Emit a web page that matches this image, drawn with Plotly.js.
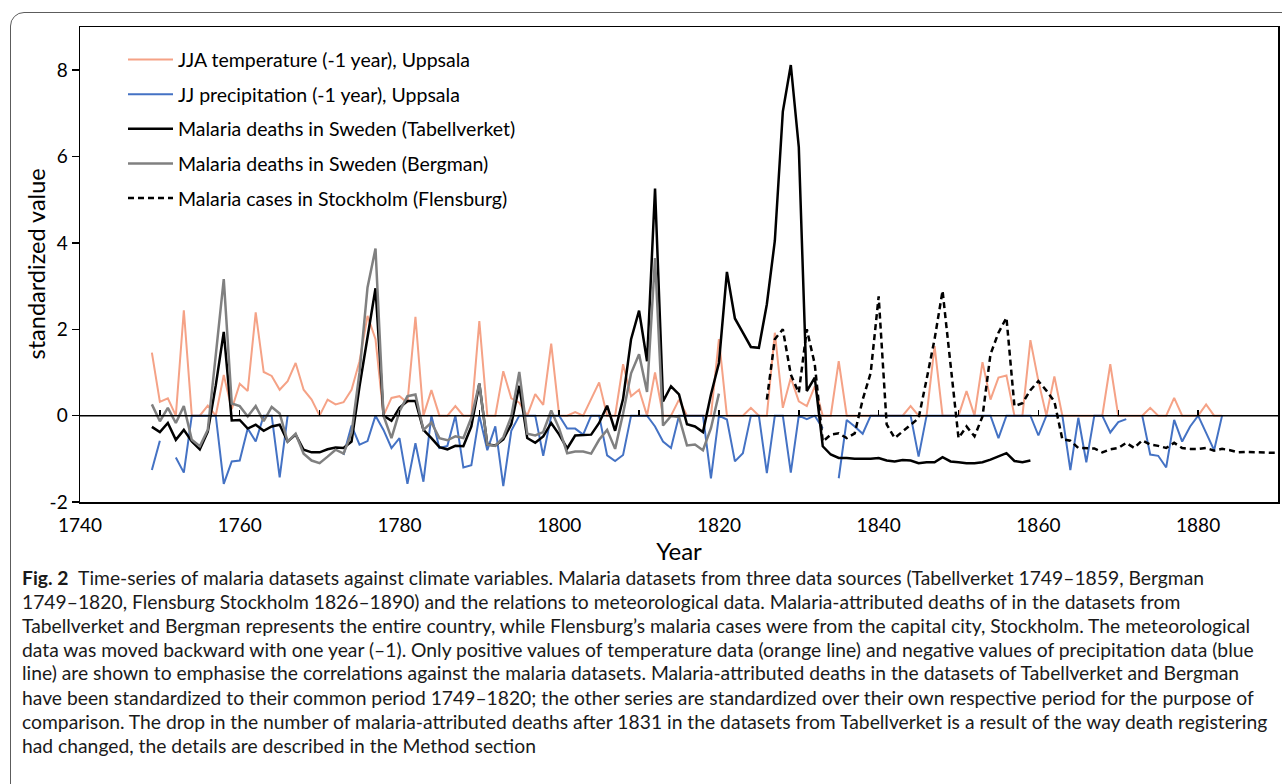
<!DOCTYPE html>
<html><head><meta charset="utf-8">
<script src="https://cdn.plot.ly/plotly-3.0.1.min.js"></script>
<style>
html,body{margin:0;padding:0;background:#fff;overflow:hidden;width:1282px;height:784px;}
#frame{position:absolute;left:10px;top:12px;width:1330px;height:830px;border:1.5px solid #5c5c5c;border-radius:14px;box-sizing:border-box;}
#chart{position:absolute;left:0;top:0;width:1282px;height:784px;}
</style></head><body>
<div id="frame"></div>
<div id="chart"></div>
<script>
// ---- data (standardized values) ----
const climateStart = 1749;
const jjaTemperature = [
 1.46,0.32,0.40,0,2.44,0,0,0.23,0,0.94,
 0.15,0.74,0.57,2.39,1.01,0.92,0.60,0.80,1.22,0.60,
 0.37,0,0.37,0.26,0.31,0.60,1.26,2.31,1.77,0,
 0.41,0.45,0.30,2.29,0,0.59,0,0,0.22,0,
 0,2.19,0,0,1.03,0.40,0.30,0,0.50,0.25,
 1.67,0,0,0.08,0,0.40,0.77,0,0,1.19,
 0.45,0.60,0,1.00,0,0,0.37,0,0,0,
 0,1.77,0,0,0,0.18,0,0,1.92,0.18,
 0.88,0.33,0.22,0.68,0,0,1.26,0,0,0,
 0,0,0,0,0,0.22,0,0,1.61,0,
 0,0,0.57,0,1.24,0.37,0.88,0.93,0,0,
 1.75,0.80,0,0.91,0,0,0,0,0,0,
 1.19,0,0,0,0,0.18,0,0,0.41,0,
 0,0,0.26,0,0
];
const jjPrecipitation = [
 -1.26,-0.58,null,-0.97,-1.32,0,0,0,0,-1.58,
 -1.06,-1.04,-0.30,-0.60,0,0,-1.43,0,null,null,
 null,null,null,null,-0.91,-0.23,-0.67,-0.59,0,-0.33,
 -0.75,-0.52,-1.58,-0.64,-1.53,0,-0.75,-0.70,0,-1.20,
 -1.15,0,-0.80,-0.25,-1.63,-0.35,0,0,0,-0.93,
 0,0,-0.30,-0.30,-0.44,0,0,-0.92,-1.05,-0.91,
 0,0,0,-0.25,-0.60,-0.75,0,0,0,0,
 -1.45,0,-0.09,-1.06,-0.87,0,0,-1.33,0,0,
 -1.32,0,-0.08,0,-0.30,null,-1.45,-0.10,-0.25,-0.42,
 0,0,0,0,0,0,-0.95,0,0,0,
 0,0,0,0,0,0,-0.52,0,0,0,
 0,-0.46,0,0,0,-1.26,-0.05,-1.08,0,0,
 -0.39,-0.15,-0.08,null,0,-0.90,-0.93,-1.20,-0.10,-0.60,
 -0.25,0,-0.40,-0.80,0
];
const tabellverketStart = 1749;
const tabellverket = [
 -0.26,-0.38,-0.17,-0.56,-0.33,-0.60,-0.78,-0.37,0.70,1.94,
 -0.11,-0.10,-0.30,-0.21,-0.35,-0.25,-0.21,-0.60,-0.44,-0.79,
 -0.85,-0.85,-0.78,-0.74,-0.75,-0.60,0.68,1.77,2.95,0.00,
 -0.12,0.18,0.34,0.34,-0.33,-0.52,-0.73,-0.78,-0.70,-0.71,
 -0.25,0.74,-0.67,-0.69,-0.55,-0.20,0.69,-0.52,-0.63,-0.48,
 -0.17,-0.44,-0.76,-0.46,-0.45,-0.44,-0.17,0.23,-0.35,0.39,
 1.77,2.43,1.26,5.26,0.33,0.68,0.49,-0.20,-0.25,-0.38,
 0.49,1.22,3.33,2.25,1.92,1.59,1.57,2.58,4.05,7.04,
 8.12,6.22,0.57,0.88,-0.71,-0.90,-0.98,-0.98,-1.00,-1.00,
 -1.00,-0.98,-1.04,-1.06,-1.03,-1.04,-1.10,-1.08,-1.08,-0.96,
 -1.06,-1.08,-1.10,-1.10,-1.08,-1.02,-0.95,-0.87,-1.05,-1.08,
 -1.04
];
const bergmanStart = 1749;
const bergman = [
 0.26,-0.13,0.18,-0.17,0.22,-0.56,-0.71,-0.33,1.40,3.16,
 0.28,0.22,-0.02,0.22,-0.13,0.20,0.05,-0.60,-0.42,-0.88,
 -1.04,-1.10,-0.95,-0.79,-0.88,-0.40,1.00,2.97,3.87,0.00,
 -0.52,0.10,0.45,0.49,-0.33,-0.16,-0.52,-0.57,-0.48,-0.52,
 -0.05,0.75,-0.67,-0.70,-0.50,-0.02,1.01,-0.42,-0.46,-0.38,
 0.12,-0.30,-0.87,-0.83,-0.83,-0.88,-0.56,-0.33,-0.77,0.05,
 0.98,1.42,0.55,3.65,-0.23,-0.01,-0.03,-0.69,-0.67,-0.80,
 -0.29,0.51
];
const flensburgStart = 1826;
const flensburg = [
 0.37,1.77,2.00,0.95,0.53,2.00,1.19,-0.60,-0.44,-0.41,
 -0.52,-0.41,0.37,0.99,2.76,-0.20,-0.52,-0.37,-0.21,-0.06,
 0.84,1.77,2.89,1.10,-0.52,-0.25,-0.48,-0.02,1.42,1.92,
 2.27,0.22,0.29,0.59,0.80,0.58,0.33,-0.55,-0.58,-0.75,
 -0.75,-0.76,-0.85,-0.78,-0.75,-0.63,-0.75,-0.57,-0.67,-0.70,
 -0.75,-0.63,-0.75,-0.77,-0.77,-0.75,-0.81,-0.77,-0.80,-0.85,
 -0.84,-0.85,-0.85,-0.86,-0.86
];
const seriesNames = [
 "JJA temperature (-1 year), Uppsala",
 "JJ precipitation (-1 year), Uppsala",
 "Malaria deaths in Sweden (Tabellverket)",
 "Malaria deaths in Sweden (Bergman)",
 "Malaria cases in Stockholm (Flensburg)"
];
const xTickLabels = [1740,1760,1780,1800,1820,1840,1860,1880];
const yTickLabels = [-2,0,2,4,6,8];
const yAxisTitle = "standardized value";
const xAxisTitle = "Year";
const captionLines = [
 "<b>Fig. 2</b>\u2002Time-series of malaria datasets against climate variables. Malaria datasets from three data sources (Tabellverket 1749–1859, Bergman",
 "1749–1820, Flensburg Stockholm 1826–1890) and the relations to meteorological data. Malaria-attributed deaths of in the datasets from",
 "Tabellverket and Bergman represents the entire country, while Flensburg’s malaria cases were from the capital city, Stockholm. The meteorological",
 "data was moved backward with one year (–1). Only positive values of temperature data (orange line) and negative values of precipitation data (blue",
 "line) are shown to emphasise the correlations against the malaria datasets. Malaria-attributed deaths in the datasets of Tabellverket and Bergman",
 "have been standardized to their common period 1749–1820; the other series are standardized over their own respective period for the purpose of",
 "comparison. The drop in the number of malaria-attributed deaths after 1831 in the datasets from Tabellverket is a result of the way death registering",
 "had changed, the details are described in the Method section"
];

// ---- build ----
const yearsFrom = (start, arr) => arr.map((_, i) => start + i);
const W = 1282, H = 784;
const M = {l: 80, r: 4, t: 27, b: 282};
const plotW = W - M.l - M.r, plotH = H - M.t - M.b;
const yRange = [-2, 9];
const FONT = "Lato, 'Open Sans', sans-serif";
const px2paperX = p => (p - M.l) / plotW;
const px2paperY = p => (M.t + plotH - p) / plotH;

const traces = [
 {x: yearsFrom(climateStart, jjaTemperature), y: jjaTemperature, name: seriesNames[0],
  mode: 'lines', line: {color: '#F5A286', width: 2}, legendgroup: 'a'},
 {x: yearsFrom(climateStart, jjPrecipitation), y: jjPrecipitation, name: seriesNames[1],
  mode: 'lines', line: {color: '#4472C4', width: 2}, legendgroup: 'b'},
 {x: yearsFrom(tabellverketStart, tabellverket), y: tabellverket, name: seriesNames[2],
  mode: 'lines', line: {color: '#000000', width: 2.5}, legendgroup: 'c'},
 {x: yearsFrom(bergmanStart, bergman), y: bergman, name: seriesNames[3],
  mode: 'lines', line: {color: '#808080', width: 2.5}, legendgroup: 'd'},
 {x: yearsFrom(flensburgStart, flensburg), y: flensburg, name: seriesNames[4],
  mode: 'lines', line: {color: '#000000', width: 2.5, dash: '6px,4px'}, legendgroup: 'e'},
 {x: [xTickLabels[0]], y: [null], xaxis: 'x2', mode: 'lines', showlegend: false, hoverinfo: 'skip'}
];

const annotations = captionLines.map((t, i) => ({
 text: t, xref: 'paper', yref: 'paper',
 x: px2paperX(20), xanchor: 'left',
 y: px2paperY(577 + i * 24), yanchor: 'middle',
 showarrow: false, align: 'left',
 font: {family: FONT, size: 19.3, color: '#1a1a1a'}
}));
annotations.push({
 text: yAxisTitle, xref: 'paper', yref: 'paper', x: px2paperX(35), y: 0.5,
 xanchor: 'center', yanchor: 'middle', textangle: -90, showarrow: false,
 font: {family: FONT, size: 23.5, color: '#000'}
});

const layout = {
 width: W, height: H, margin: M,
 paper_bgcolor: 'rgba(0,0,0,0)', plot_bgcolor: 'rgba(0,0,0,0)',
 font: {family: FONT, color: '#000'},
 showlegend: true,
 legend: {x: px2paperX(123), y: 0.972, xanchor: 'left', yanchor: 'top', bgcolor: 'rgba(0,0,0,0)',
  font: {family: FONT, size: 19.5, color: '#000'}, tracegroupgap: 6.3, itemwidth: 45},
 xaxis: {range: [1740, 1890], showline: true, mirror: true, linecolor: '#000', linewidth: 1.5,
  ticks: '', tickvals: xTickLabels, ticktext: xTickLabels.map(String), ticklabelstandoff: 6,
  tickfont: {family: FONT, size: 19, color: '#000'}, showgrid: false, zeroline: false,
  title: {text: xAxisTitle, font: {family: FONT, size: 24, color: '#000'}, standoff: 8}},
 xaxis2: {overlaying: 'x', anchor: 'free', position: (0 - yRange[0]) / (yRange[1] - yRange[0]),
  range: [1740, 1890], side: 'bottom', showline: false,
  ticks: 'inside', ticklen: 6, tickwidth: 1.5, tickcolor: '#000', tick0: 1740, dtick: 10,
  showticklabels: false, showgrid: false, zeroline: false, layer: 'above traces'},
 yaxis: {range: yRange, showline: true, mirror: true, linecolor: '#000', linewidth: 1.5,
  ticks: 'outside', ticklen: 7, tickwidth: 1.5, tickcolor: '#000', tickvals: yTickLabels,
  ticktext: yTickLabels.map(v => String(v)),
  tickfont: {family: FONT, size: 19, color: '#000'}, showgrid: false, zeroline: false},
 shapes: [{type: 'line', layer: 'above', xref: 'paper', x0: 0, x1: 1, yref: 'y', y0: 0, y1: 0,
  line: {color: '#000', width: 1.5}}],
 annotations: annotations
};

Plotly.newPlot('chart', traces, layout, {staticPlot: true, displayModeBar: false});
</script></body></html>
